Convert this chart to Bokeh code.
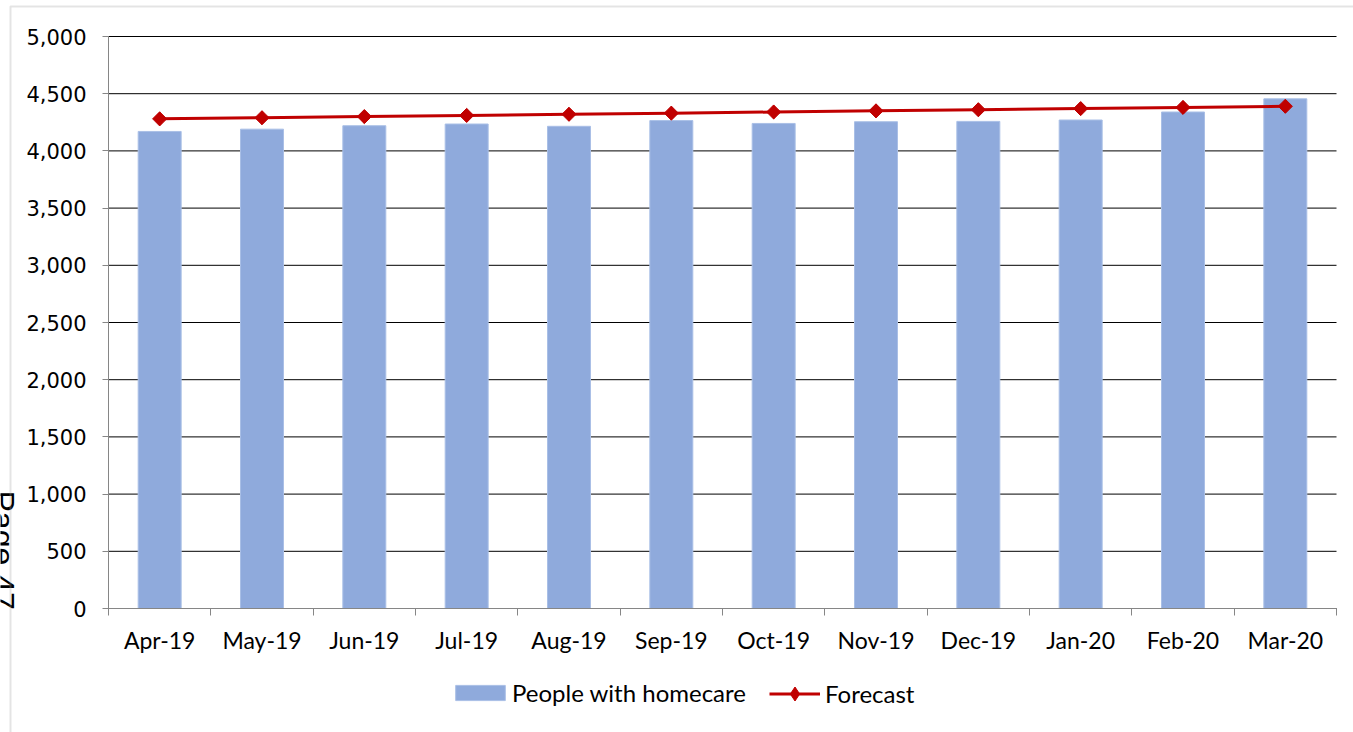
import math
from bokeh.plotting import figure
from bokeh.models import (Range1d, FixedTicker, NumeralTickFormatter, Legend, LegendItem,
                          Label, BoxAnnotation, ColumnDataSource, LinearAxis)
from bokeh.embed import file_html
from bokeh.resources import INLINE

# Monthly counts
months = ["Apr-19", "May-19", "Jun-19", "Jul-19", "Aug-19", "Sep-19",
          "Oct-19", "Nov-19", "Dec-19", "Jan-20", "Feb-20", "Mar-20"]
homecare = [4170, 4190, 4220, 4235, 4215, 4265, 4240, 4255, 4258, 4270, 4340, 4455]
forecast = [4280, 4290, 4300, 4310, 4320, 4330, 4340, 4350, 4360, 4370, 4380, 4390]
y_ticks = [0, 500, 1000, 1500, 2000, 2500, 3000, 3500, 4000, 4500, 5000]
y_max = 5000

# Page geometry (pixels): the plotting frame covers the whole canvas and the
# chart area sits inside it, so the page decorations can use the margins too.
W, H = 1353, 732
AREA_L, AREA_R, AREA_T, AREA_B = 108, 1336, 36, 608
n = len(months)
kx = (AREA_R - AREA_L) / n          # px per month
ky = (AREA_B - AREA_T) / y_max      # px per person


def dx(px):
    return (px - AREA_L) / kx


def dy(py):
    return (AREA_B - py) / ky


pos = [i + 0.5 for i in range(n)]
src = ColumnDataSource(dict(x=pos, month=months, homecare=homecare, forecast=forecast))

p = figure(width=W, height=H, output_backend="svg", toolbar_location=None,
           x_range=Range1d(dx(0), dx(W)), y_range=Range1d(dy(H), dy(0)),
           x_axis_location=None, y_axis_location=None,
           min_border=0, min_border_left=0, min_border_right=0,
           min_border_top=0, min_border_bottom=0)
p.outline_line_color = None
p.background_fill_color = "white"
p.border_fill_color = "white"
p.grid.visible = False

# horizontal gridlines across the chart area
p.segment(x0=0, x1=n, y0=y_ticks, y1=y_ticks, line_color="black", line_width=1)

bars = p.vbar(x="x", top="homecare", width=0.42, source=src,
              fill_color="#8FAADC", line_color="#A9BFE6", line_width=1)
line = p.line(x="x", y="forecast", source=src, line_color="#C00000", line_width=3)
pts = p.scatter(x="x", y="forecast", source=src, marker="square", angle=math.pi / 4,
                size=10, fill_color="#C00000", line_color="#C00000")
# plain diamonds on the same points; these also give the legend its swatch
key_pt = p.scatter(x="x", y="forecast", source=src, marker="diamond", size=13,
                   fill_color="#C00000", line_color="#C00000")

# y axis
yax = LinearAxis(fixed_location=0, bounds=(0, y_max))
yax.ticker = FixedTicker(ticks=y_ticks)
yax.formatter = NumeralTickFormatter(format="0,0")
yax.axis_line_color = "#868686"
yax.axis_line_width = 1
yax.major_tick_line_color = "#868686"
yax.major_tick_out = 6
yax.major_tick_in = 0
yax.minor_tick_line_color = None
yax.major_label_text_font = "DejaVu Sans"
yax.major_label_text_font_size = "21px"
yax.major_label_text_color = "black"
yax.major_label_standoff = 16
p.add_layout(yax, "left")

# x axis: labels at month centres, tick marks on month boundaries
xax = LinearAxis(fixed_location=0, bounds=(0, n))
xax.ticker = FixedTicker(ticks=pos, minor_ticks=list(range(n + 1)))
xax.major_label_overrides = {x: m for x, m in zip(pos, months)}
xax.axis_line_color = "#868686"
xax.major_tick_line_color = None
xax.major_tick_out = 0
xax.major_tick_in = 0
xax.minor_tick_line_color = "#868686"
xax.minor_tick_out = 7
xax.minor_tick_in = 0
xax.major_label_text_font = "Lato"
xax.major_label_text_font_size = "23px"
xax.major_label_text_color = "black"
xax.major_label_standoff = 10
p.add_layout(xax, "below")

legend_style = dict(orientation="horizontal", padding=0, margin=0,
                    border_line_color=None, background_fill_alpha=0,
                    label_text_font="Lato", label_text_font_size="24px",
                    label_text_color="black")
bar_key = Legend(items=[LegendItem(label="People with homecare", renderers=[bars])],
                 location=(449, 25), glyph_width=62, glyph_height=19,
                 label_standoff=1, **legend_style)
fc_key = Legend(items=[LegendItem(label="Forecast", renderers=[line, key_pt])],
                location=(769, 21.5), glyph_width=51, glyph_height=35,
                label_standoff=5, **legend_style)
p.add_layout(bar_key)
p.add_layout(fc_key)

# page frame lines
frame_box = BoxAnnotation(left=dx(10), right=dx(W + 50), bottom=dy(H + 50), top=dy(6),
                          fill_alpha=0, line_color="#A6A6A6", line_width=2,
                          level="overlay")
p.add_layout(frame_box)

page = Label(x=dx(2), y=dy(490), text="Page 47", angle=-math.pi / 2,
             text_font="Liberation Sans", text_font_size="32px",
             text_align="left", text_baseline="alphabetic", text_color="black")
p.add_layout(page)

open("out.html", "w").write(file_html(p, INLINE))
